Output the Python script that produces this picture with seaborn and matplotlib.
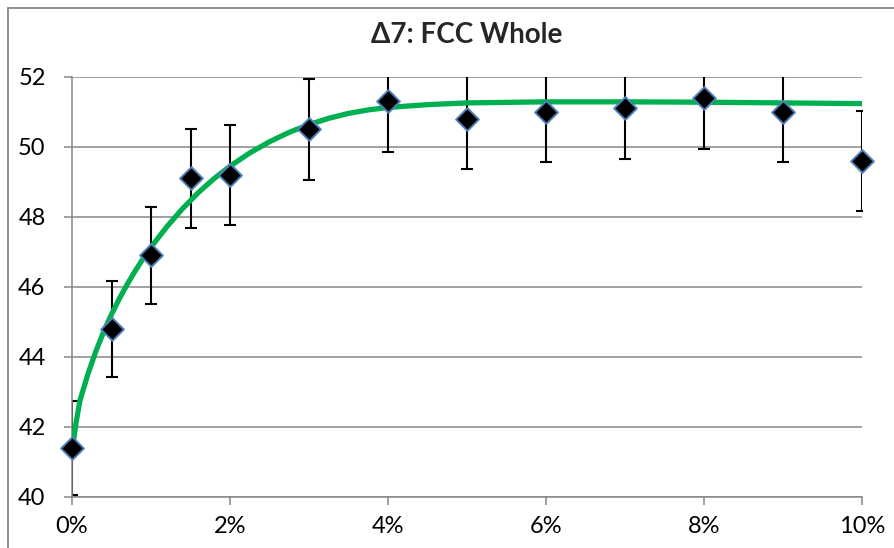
import matplotlib
matplotlib.use("Agg")
import matplotlib.pyplot as plt
import seaborn as sns
import pandas as pd
from matplotlib.lines import Line2D
from matplotlib.ticker import FuncFormatter

# ---- data (x in percent) ----
conc = [0, 0.5, 1, 1.5, 2, 3, 4, 5, 6, 7, 8, 9, 10]
value = [41.4, 44.8, 46.9, 49.1, 49.2, 50.5, 51.3, 50.8, 51.0, 51.1, 51.4, 51.0, 49.6]
error = [1.34, 1.37, 1.39, 1.41, 1.42, 1.43, 1.43, 1.43, 1.43, 1.44, 1.45, 1.43, 1.43]

# fitted trend curve
fit_x = [0.0, 0.05, 0.1, 0.2, 0.3, 0.4, 0.5, 0.6, 0.7, 0.8, 0.9, 1.0, 1.2,
         1.4, 1.6, 1.8, 2.0, 2.25, 2.5, 2.75, 3.0, 3.25, 3.5, 3.75, 4.0,
         4.5, 5.0, 6.0, 7.0, 8.0, 9.0, 10.0]
fit_y = [41.3, 42.1, 42.75, 43.5, 44.15, 44.72, 45.22, 45.67, 46.08, 46.46,
         46.81, 47.14, 47.72, 48.24, 48.70, 49.10, 49.45, 49.83, 50.15, 50.42,
         50.64, 50.82, 50.96, 51.06, 51.13, 51.21, 51.26, 51.29, 51.29, 51.28,
         51.26, 51.24]

y_ticks = [40, 42, 44, 46, 48, 50, 52]
x_ticks = [0, 2, 4, 6, 8, 10]
title = "\u03947: FCC Whole"

pts = pd.DataFrame({"conc": conc, "value": value, "error": error})
fit = pd.DataFrame({"x": fit_x, "y": fit_y})

sns.set_style("white")
plt.rcParams["font.family"] = ["Lato", "DejaVu Sans"]

W, H = 894, 548
fig = plt.figure(figsize=(W / 100, H / 100), dpi=100)
ax = fig.add_axes([72 / W, 1 - 497 / H, (862 - 72) / W, (497 - 77) / H])

grid_c = "#868686"
for yv in y_ticks:
    ax.axhline(yv, color=grid_c, lw=1.1, zorder=0)

# error bars (clipped to the plot area)
ax.errorbar(pts["conc"], pts["value"], yerr=pts["error"], fmt="none",
            ecolor="black", elinewidth=1.5, capsize=4.5, capthick=1.5, zorder=2)

# fitted curve
line = sns.lineplot(data=fit, x="x", y="y", ax=ax, color="#00B050", lw=3.8,
                    zorder=3, sort=False)
for ln in ax.get_lines():
    ln.set_solid_joinstyle("round")
    ln.set_solid_capstyle("round")

# markers
sns.scatterplot(data=pts, x="conc", y="value", ax=ax, marker="D", s=135,
                color="black", edgecolor="#4F81BD", linewidth=1.4,
                zorder=4, clip_on=False)

ax.set_xlim(0, 10)
ax.set_ylim(40, 52)
ax.set_yticks(y_ticks)
ax.set_xticks(x_ticks)
ax.xaxis.set_major_formatter(FuncFormatter(lambda v, p: f"{v:.0f}%"))
ax.set_xlabel("")
ax.set_ylabel("")

for s in ["top", "right"]:
    ax.spines[s].set_visible(False)
for s in ["left", "bottom"]:
    ax.spines[s].set_color(grid_c)
    ax.spines[s].set_linewidth(1.1)

ax.tick_params(axis="both", which="major", direction="out", length=6,
               width=1.1, color=grid_c, labelsize=17, labelcolor="black")
ax.tick_params(axis="y", pad=13)
ax.tick_params(axis="x", pad=8)
ax.tick_params(left=True, bottom=True)

fig.text((72 + 862) / 2 / W, 1 - 35 / H, title, ha="center", va="center",
         fontsize=20, fontweight="bold")

# chart-area border
bx, by = 8 / W, 1 - 8 / H
fig.add_artist(Line2D([bx, 1], [by, by], transform=fig.transFigure,
                      color=grid_c, lw=1.3))
fig.add_artist(Line2D([bx, bx], [0, by], transform=fig.transFigure,
                      color=grid_c, lw=1.3))

fig.savefig("out.png", dpi=100)
